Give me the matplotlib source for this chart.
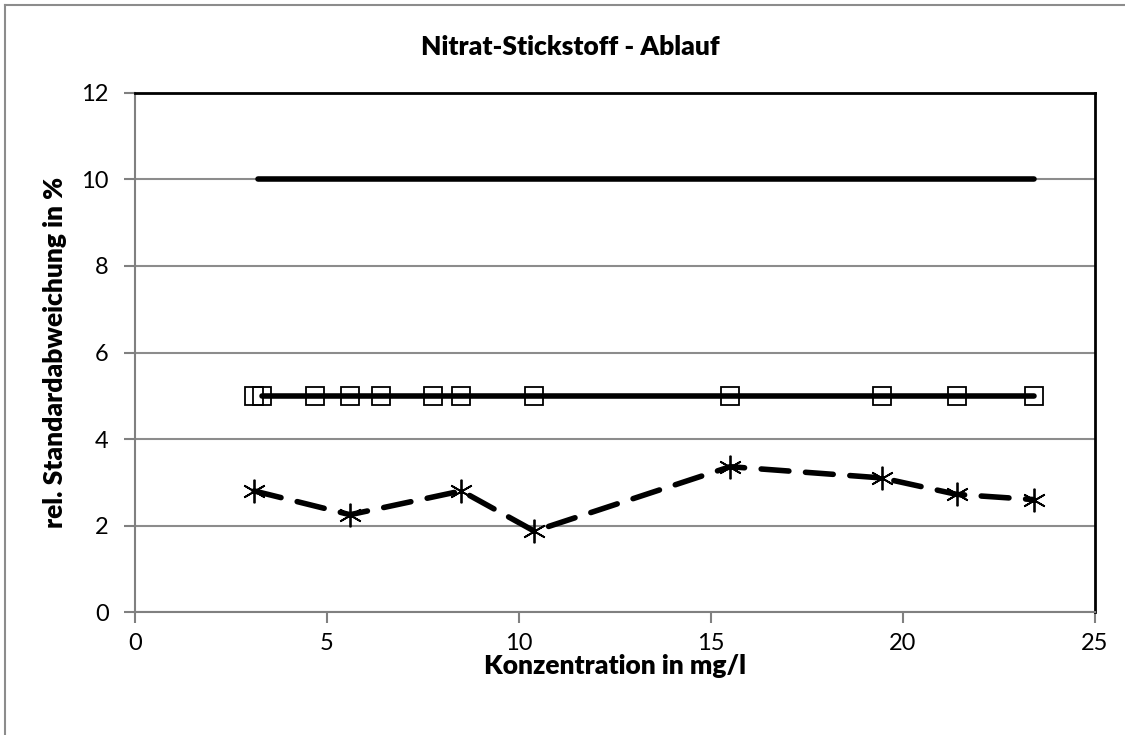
import matplotlib.pyplot as plt
from matplotlib.lines import Line2D

plt.rcParams['font.family'] = ['Lato', 'DejaVu Sans']

# --- Data ---
konz = [3.1, 3.3, 4.7, 5.6, 6.4, 7.75, 8.5, 10.4, 15.5, 19.45, 21.4, 23.4]
limit_5 = [5, 5, 5, 5, 5, 5, 5, 5, 5, 5, 5, 5]

konz_limit10 = [3.2, 23.4]
limit_10 = [10, 10]

konz_sd = [3.1, 5.6, 8.5, 10.4, 15.5, 19.45, 21.4, 23.4]
rel_sd = [2.8, 2.25, 2.8, 1.87, 3.36, 3.1, 2.72, 2.6]

# --- Plot ---
fig = plt.figure(figsize=(11.25, 7.35), dpi=100)
ax = fig.add_axes([0.12, 0.1673, 0.8533, 0.7062])

ax.plot(konz_limit10, limit_10, color='black', lw=4, solid_capstyle='round', zorder=3)
ax.plot(konz[1:], limit_5[1:], color='black', lw=4, solid_capstyle='round', zorder=3)
ax.plot(konz, limit_5, ls='none', marker='s', ms=13, mfc='none', mec='black', mew=1.3, zorder=4)
ax.plot(konz_sd, rel_sd, color='black', lw=4, ls=(0, (5, 3)), dash_capstyle='round', zorder=3)
ax.plot(konz_sd, rel_sd, ls='none', marker=(6, 2, 0), ms=17, mec='black', mew=1.3, zorder=4)

ax.set_xlim(0, 25)
ax.set_ylim(0, 12)
ax.set_xticks([0, 5, 10, 15, 20, 25])
ax.set_yticks([0, 2, 4, 6, 8, 10, 12])
ax.yaxis.grid(True, color='#8c8c8c', lw=1.5)
ax.set_axisbelow(True)

for s in ['left', 'bottom']:
    ax.spines[s].set_color('#808080')
    ax.spines[s].set_linewidth(1.5)
for s in ['top', 'right']:
    ax.spines[s].set_color('black')
    ax.spines[s].set_linewidth(2)

ax.tick_params(axis='both', direction='out', length=8, width=1.5, color='#808080',
               labelsize=17)
ax.tick_params(axis='x', pad=7)
ax.tick_params(axis='y', pad=11)

ax.set_xlabel('Konzentration in mg/l', fontsize=19, fontweight='heavy', labelpad=0)
ax.set_ylabel('rel. Standardabweichung in %', fontsize=19, fontweight='heavy', labelpad=10)
fig.text(0.507, 0.936, 'Nitrat-Stickstoff - Ablauf', ha='center', va='center',
         fontsize=19, fontweight='heavy')

# outer chart frame (partly cut off)
fig.add_artist(Line2D([5 / 1125, 1], [1 - 5 / 735, 1 - 5 / 735], color='#8c8c8c', lw=1.5,
                      transform=fig.transFigure))
fig.add_artist(Line2D([5 / 1125, 5 / 1125], [0, 1 - 5 / 735], color='#8c8c8c', lw=1.5,
                      transform=fig.transFigure))

fig.savefig('out.png', dpi=100)
